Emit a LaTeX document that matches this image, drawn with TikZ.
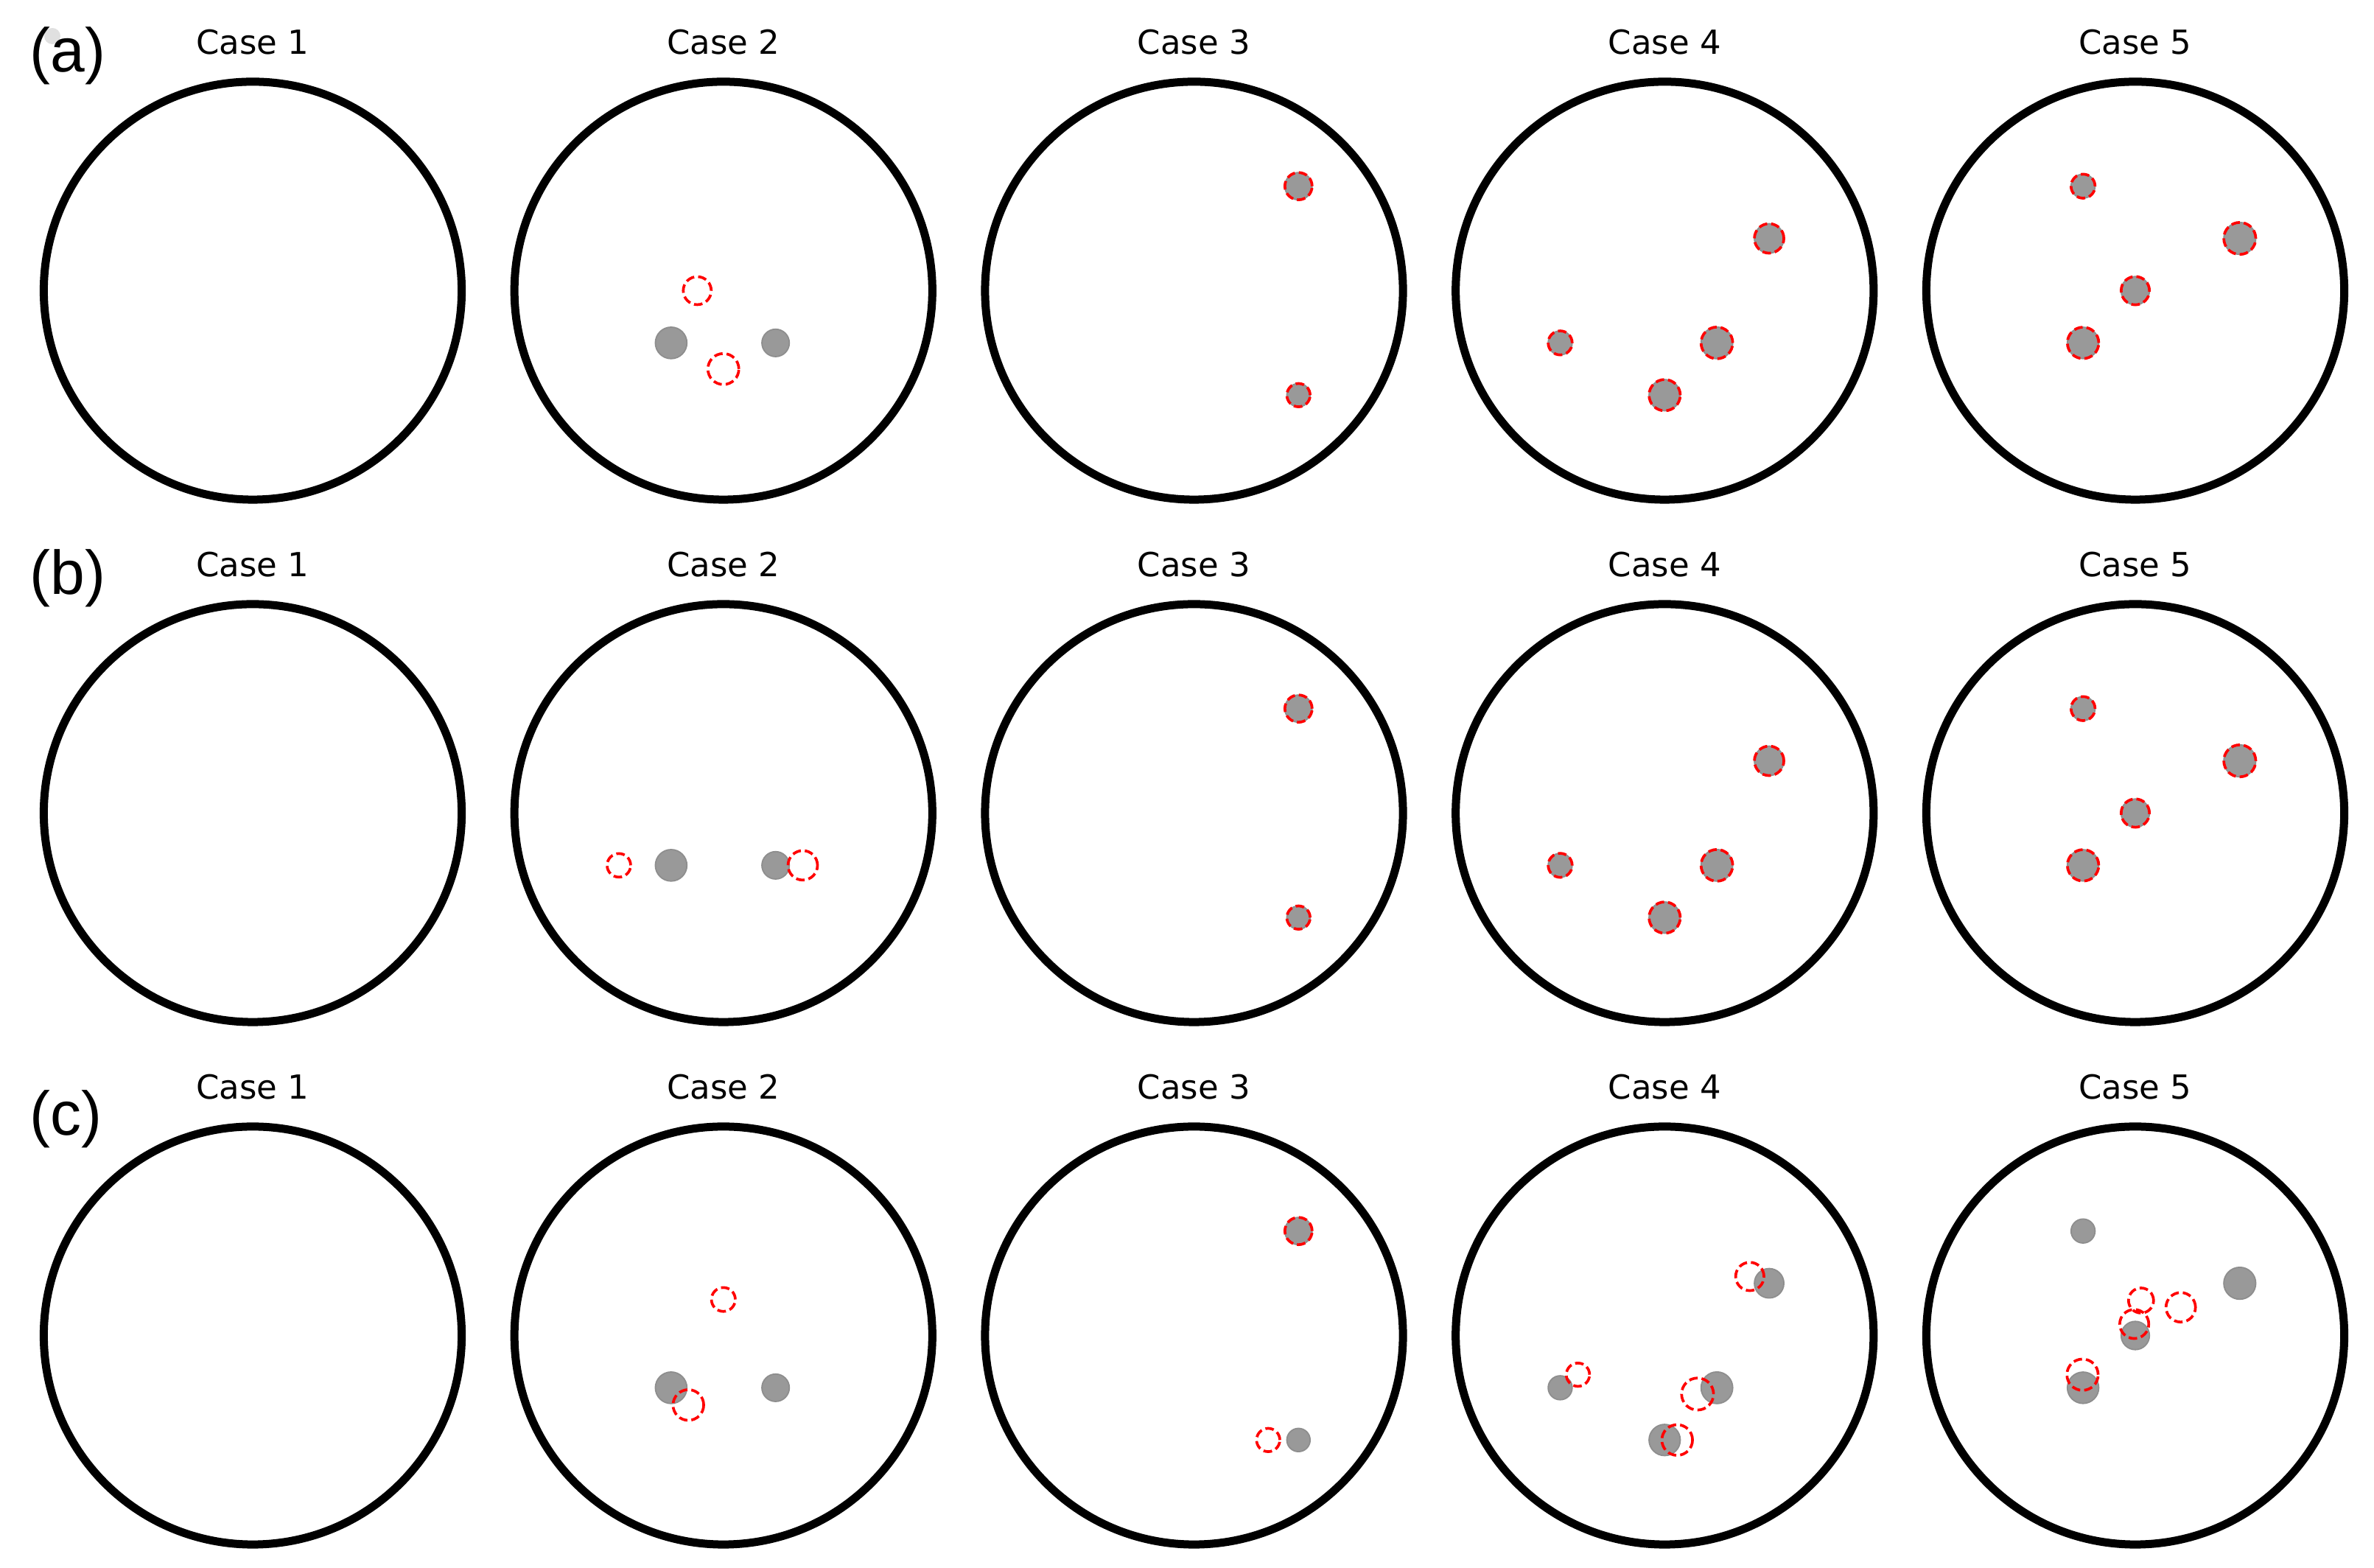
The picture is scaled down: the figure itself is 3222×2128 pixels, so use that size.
\documentclass[tikz,border=0pt]{standalone}
\usepackage{fontspec}
\newfontfamily\casefont{DejaVu Sans}
\newfontfamily\labfont{Liberation Sans}
\definecolor{pgray}{HTML}{999999}
\definecolor{prim}{HTML}{8E8E8E}
\definecolor{speck}{HTML}{E0E0E0}
\newcommand\grn[3]{\path[pfill] ({#1*70.9},{#2*70.9}) circle (#3);}
\newcommand\ghc[3]{\path[rdash] ({#1*70.9},{#2*70.9}) circle (#3);}
\newcommand\ring[4]{% name, X, Y, case number
  \draw[bigring] (#2,#3) circle (283.6);
  \node[casetitle] (#1) at (#2,#3+320.5) {Case #4};
}
\begin{document}
\begin{tikzpicture}[x=0.25pt,y=0.25pt,
  bigring/.style={draw=black,line width=2.75pt},
  pfill/.style={fill=pgray,draw=prim,line width=0.45pt},
  rdash/.style={draw=red,line width=0.92pt,dash pattern=on 2.9pt off 1.35pt},
  casetitle/.style={font=\casefont\fontsize{11.25}{13}\selectfont,anchor=base,inner sep=0pt},
  rowlabel/.style={font=\labfont\fontsize{21}{24}\selectfont,anchor=base west,inner sep=0pt}]
\useasboundingbox (0,0) rectangle (3222,2128);
\fill[speck] (71,2079) circle (11);
\node[rowlabel] (la) at (40,2030) {(a)};
\node[rowlabel] (lb) at (40,1321) {(b)};
\node[rowlabel] (lc) at (40,587) {(c)};
% ---------- row a ----------
\ring{a1}{343}{1733.5}{1}
\ring{a2}{981.75}{1733.5}{2}
\ring{a3}{1620.5}{1733.5}{3}
\ring{a4}{2259.25}{1733.5}{4}
\ring{a5}{2898}{1733.5}{5}
\begin{scope}[shift={(981.75,1733.5)}]
  \grn{-1}{-1}{21.4}\grn{1}{-1}{18.6}
  \ghc{-0.5}{0}{19}\ghc{0}{-1.5}{21}
\end{scope}
\begin{scope}[shift={(1620.5,1733.5)}]
  \grn{2}{2}{18.5}\grn{2}{-2}{15.8}
  \ghc{2}{2}{18.5}\ghc{2}{-2}{15.8}
\end{scope}
\begin{scope}[shift={(2259.25,1733.5)}]
  \grn{2}{1}{20}\grn{-2}{-1}{16.3}\grn{1}{-1}{21.5}\grn{0}{-2}{21.2}
  \ghc{2}{1}{20}\ghc{-2}{-1}{16.3}\ghc{1}{-1}{21.5}\ghc{0}{-2}{21.2}
\end{scope}
\begin{scope}[shift={(2898,1733.5)}]
  \grn{-1}{2}{16.3}\grn{2}{1}{21.7}\grn{0}{0}{19.2}\grn{-1}{-1}{21.3}
  \ghc{-1}{2}{16.3}\ghc{2}{1}{21.7}\ghc{0}{0}{19.2}\ghc{-1}{-1}{21.3}
\end{scope}
% ---------- row b ----------
\ring{b1}{343}{1024.5}{1}
\ring{b2}{981.75}{1024.5}{2}
\ring{b3}{1620.5}{1024.5}{3}
\ring{b4}{2259.25}{1024.5}{4}
\ring{b5}{2898}{1024.5}{5}
\begin{scope}[shift={(981.75,1024.5)}]
  \grn{-1}{-1}{21.4}\grn{1}{-1}{18.6}
  \ghc{-2}{-1}{16}\ghc{1.52}{-1}{20}
\end{scope}
\begin{scope}[shift={(1620.5,1024.5)}]
  \grn{2}{2}{18.5}\grn{2}{-2}{15.8}
  \ghc{2}{2}{18.5}\ghc{2}{-2}{15.8}
\end{scope}
\begin{scope}[shift={(2259.25,1024.5)}]
  \grn{2}{1}{20}\grn{-2}{-1}{16.3}\grn{1}{-1}{21.5}\grn{0}{-2}{21.2}
  \ghc{2}{1}{20}\ghc{-2}{-1}{16.3}\ghc{1}{-1}{21.5}\ghc{0}{-2}{21.2}
\end{scope}
\begin{scope}[shift={(2898,1024.5)}]
  \grn{-1}{2}{16.3}\grn{2}{1}{21.7}\grn{0}{0}{19.2}\grn{-1}{-1}{21.3}
  \ghc{-1}{2}{16.3}\ghc{2}{1}{21.7}\ghc{0}{0}{19.2}\ghc{-1}{-1}{21.3}
\end{scope}
% ---------- row c ----------
\ring{c1}{343}{315.5}{1}
\ring{c2}{981.75}{315.5}{2}
\ring{c3}{1620.5}{315.5}{3}
\ring{c4}{2259.25}{315.5}{4}
\ring{c5}{2898}{315.5}{5}
\begin{scope}[shift={(981.75,315.5)}]
  \grn{-1}{-1}{21.4}\grn{1}{-1}{18.6}
  \ghc{0}{0.69}{16.2}\ghc{-0.67}{-1.33}{20.8}
\end{scope}
\begin{scope}[shift={(1620.5,315.5)}]
  \grn{2}{2}{18.5}\grn{2}{-2}{15.8}
  \ghc{2}{2}{18.5}\ghc{1.42}{-2}{15.8}
\end{scope}
\begin{scope}[shift={(2259.25,315.5)}]
  \grn{2}{1}{20}\grn{-2}{-1}{16.3}\grn{1}{-1}{21.5}\grn{0}{-2}{21.2}
  \ghc{1.63}{1.13}{19.2}\ghc{-1.66}{-0.75}{15.8}\ghc{0.63}{-1.12}{21.7}\ghc{0.24}{-2}{20.8}
\end{scope}
\begin{scope}[shift={(2898,315.5)}]
  \grn{-1}{2}{16.3}\grn{2}{1}{21.7}\grn{0}{0}{19.2}\grn{-1}{-1}{21.3}
  \ghc{0.11}{0.67}{17}\ghc{0.87}{0.54}{20}\ghc{-0.02}{0.22}{19.7}\ghc{-1.01}{-0.75}{21.2}
\end{scope}
\end{tikzpicture}
\end{document}
